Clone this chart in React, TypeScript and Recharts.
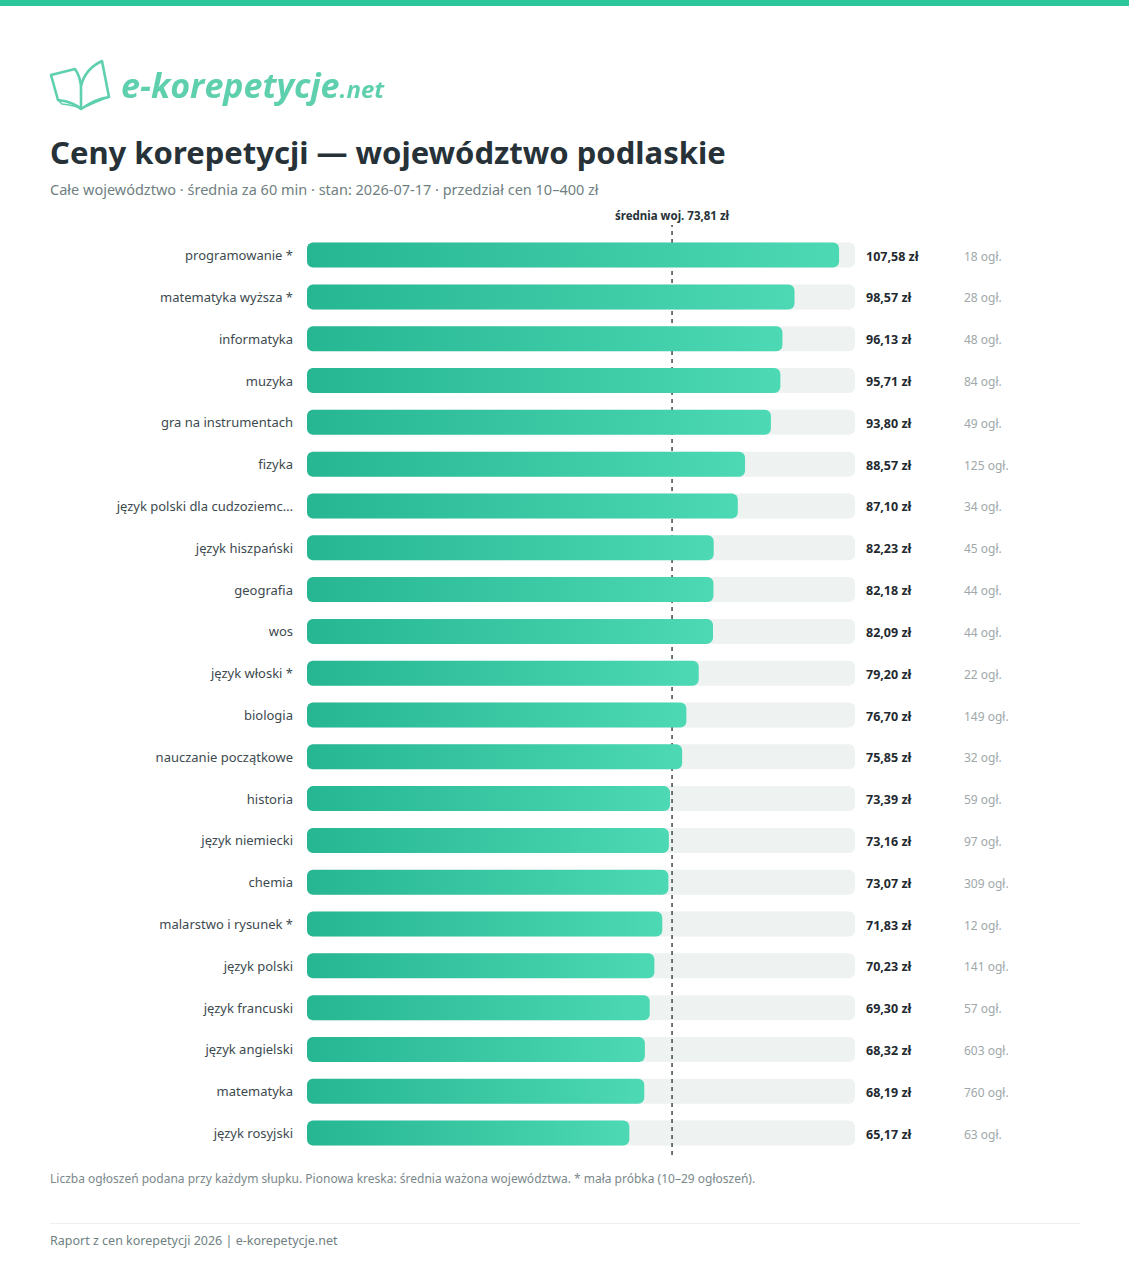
import { Bar, BarChart, LabelList, ReferenceLine, XAxis, YAxis } from 'recharts';

const subjects = [
  'programowanie *', 'matematyka wyższa *', 'informatyka', 'muzyka', 'gra na instrumentach', 'fizyka',
  'język polski dla cudzoziemc…', 'język hiszpański', 'geografia', 'wos', 'język włoski *', 'biologia',
  'nauczanie początkowe', 'historia', 'język niemiecki', 'chemia', 'malarstwo i rysunek *', 'język polski',
  'język francuski', 'język angielski', 'matematyka', 'język rosyjski',
];
const prices = [
  107.58, 98.57, 96.13, 95.71, 93.8, 88.57, 87.1, 82.23, 82.18, 82.09, 79.2, 76.7, 75.85, 73.39, 73.16,
  73.07, 71.83, 70.23, 69.3, 68.32, 68.19, 65.17,
];
const adCounts = [18, 28, 48, 84, 49, 125, 34, 45, 44, 44, 22, 149, 32, 59, 97, 309, 12, 141, 57, 603, 760, 63];
const regionAverage = 73.81;

const chartData = subjects.map((subject, i) => ({ subject, price: prices[i], ads: adCounts[i] }));
const FONT = '"Noto Sans", sans-serif';

const formatPrice = (v: number) => v.toFixed(2).replace('.', ',') + ' zł';

function RowLabels(props: any) {
  const { y, height, index } = props;
  const cy = y + height / 2 + 1;
  return (
    <g fontFamily={FONT} dominantBaseline="central">
      <text x={866} y={cy} fontSize={12.5} fontWeight={700} fill="#1f2a30">
        {formatPrice(prices[index])}
      </text>
      <text x={964} y={cy} fontSize={12} fill="#a0a8aa">
        {adCounts[index]} ogł.
      </text>
    </g>
  );
}

function Logo() {
  return (
    <svg width={360} height={60} style={{ position: 'absolute', left: 48, top: 56, filter: 'blur(0.5px)' }}>
      <g fill="none" stroke="#5fd0ae" strokeWidth={2.6} strokeLinejoin="round">
        <path d="M3 19 L27 13 Q32 20 33 30 L33 53 Q26 46 10 44 Z" />
        <path d="M33 30 Q37 13 54 5 L61 41 Q47 43 33 53" />
        <path d="M10 44 L14 48 Q26 49 33 53 Q45 47 61 41" strokeWidth={1.6} />
      </g>
      <text x={73} y={42} fontFamily='"Open Sans", sans-serif' fontWeight={700} fontStyle="italic" fontSize={34} fill="#5fd0ae">
        e-korepetycje
        <tspan fontSize={24}>.net</tspan>
      </text>
    </svg>
  );
}

export default function App() {
  return (
    <div style={{ position: 'relative', width: 1129, height: 1280, background: '#fff', fontFamily: FONT, overflow: 'hidden' }}>
      <style>{'body{margin:0}'}</style>
      <div style={{ position: 'absolute', left: 0, top: 0, width: 1129, height: 6, background: '#2bc79b' }} />
      <Logo />
      <div style={{ position: 'absolute', left: 50, top: 132, fontSize: 31, lineHeight: '40px', fontWeight: 700, color: '#263238', whiteSpace: 'nowrap' }}>
        Ceny korepetycji — województwo podlaskie
      </div>
      <div style={{ position: 'absolute', left: 50, top: 179, fontSize: 14.5, lineHeight: '20px', color: '#6f7f82', whiteSpace: 'nowrap' }}>
        Całe województwo · średnia za 60 min · stan: 2026-07-17 · przedział cen 10–400 zł
      </div>
      <div style={{ position: 'absolute', left: 0, top: 0 }}>
        <BarChart
          width={1129}
          height={1280}
          layout="vertical"
          data={chartData}
          margin={{ top: 225, right: 274, bottom: 125, left: 0 }}
          barSize={25}
        >
          <defs>
            <linearGradient id="barFill" x1="0" y1="0" x2="1" y2="0">
              <stop offset="0%" stopColor="#26b692" />
              <stop offset="100%" stopColor="#4cd9b3" />
            </linearGradient>
          </defs>
          <XAxis type="number" domain={[0, 110.8]} hide />
          <YAxis
            type="category"
            dataKey="subject"
            width={307}
            interval={0}
            axisLine={false}
            tickLine={false}
            tickMargin={8}
            padding={{ top: 9.6, bottom: 0.6 }}
            tick={{ fontSize: 13, fill: '#3d4a4f', fontFamily: FONT }}
          />
          <ReferenceLine
            x={regionAverage}
            stroke="#3d4a4f"
            strokeWidth={1.5}
            strokeDasharray="4 4"
            zIndex={100}
            label={{
              value: 'średnia woj. 73,81 zł',
              position: 'top',
              fontSize: 11.5,
              fontWeight: 700,
              fill: '#263238',
              fontFamily: FONT,
            }}
          />
          <Bar
            dataKey="price"
            fill="url(#barFill)"
            radius={6}
            background={{ fill: '#eef2f1', radius: 6 }}
            isAnimationActive={false}
          >
            <LabelList dataKey="price" content={RowLabels} />
          </Bar>
        </BarChart>
      </div>
      <div style={{ position: 'absolute', left: 50, top: 1171, fontSize: 12, lineHeight: '16px', color: '#7b888b', whiteSpace: 'nowrap' }}>
        Liczba ogłoszeń podana przy każdym słupku. Pionowa kreska: średnia ważona województwa. * mała próbka (10–29 ogłoszeń).
      </div>
      <div style={{ position: 'absolute', left: 50, top: 1223, width: 1030, height: 1, background: '#edf0f0' }} />
      <div style={{ position: 'absolute', left: 50, top: 1232, fontSize: 12.5, lineHeight: '17px', color: '#6f7f82', whiteSpace: 'nowrap' }}>
        Raport z cen korepetycji 2026 | e-korepetycje.net
      </div>
    </div>
  );
}
